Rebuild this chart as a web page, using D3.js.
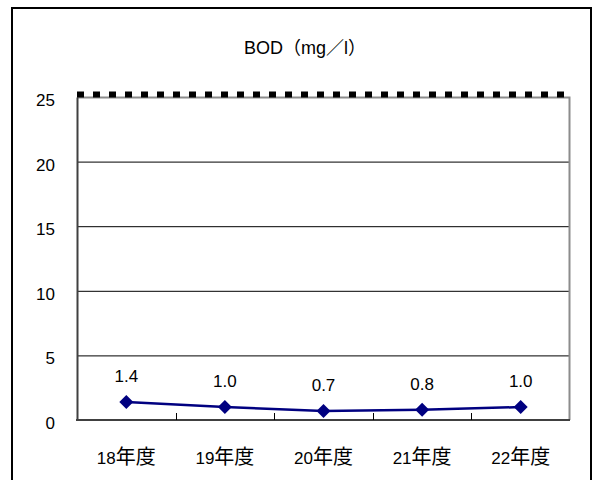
<!DOCTYPE html>
<html>
<head>
<meta charset="utf-8">
<script src="https://cdn.jsdelivr.net/npm/d3@7"></script>
<style>
  html, body { margin: 0; padding: 0; background: #fff; }
  svg { display: block; }
  text { font-family: "Liberation Sans", "Noto Sans CJK JP", sans-serif; fill: #000; }
</style>
</head>
<body>
<svg id="chart" width="595" height="480"></svg>
<script>
// BOD yearly averages with the environmental standard line
const categories = ["18年度", "19年度", "20年度", "21年度", "22年度"];
const bodValues = [1.4, 1.0, 0.7, 0.8, 1.0];
const yTicks = [0, 5, 10, 15, 20, 25];
const standardValue = [25];
const titleText = "BOD（mg／l）";

const svg = d3.select("#chart");
const plot = { left: 77, right: 570, top: 97, bottom: 420 };

// outer frame (bottom edge falls outside the canvas)
svg.append("rect")
  .attr("x", 12).attr("y", 8)
  .attr("width", 579).attr("height", 480)
  .attr("fill", "none").attr("stroke", "#000").attr("stroke-width", 2);

const x = d3.scaleBand().domain(categories).range([plot.left, plot.right]);
const y = d3.scaleLinear().domain([0, 25]).range([plot.bottom, plot.top]);

// title
svg.append("text")
  .attr("x", 305).attr("y", 54)
  .attr("text-anchor", "middle")
  .attr("font-size", 18)
  .text(titleText);

// horizontal gridlines
svg.append("g").selectAll("line")
  .data(yTicks.filter(t => t > 0 && t < 25))
  .join("line")
  .attr("x1", plot.left).attr("x2", plot.right)
  .attr("y1", d => y(d) + 0.5).attr("y2", d => y(d) + 0.5)
  .attr("stroke", "#000").attr("stroke-width", 1);

// plot area top and right border
svg.append("path")
  .attr("d", `M${plot.left},${y(25) + 0.5}H${plot.right - 0.5}V${plot.bottom}`)
  .attr("fill", "none").attr("stroke", "#8c8c8c").attr("stroke-width", 2);

// y axis
const yAxis = d3.axisLeft(y).tickValues(yTicks).tickSize(0).tickPadding(22);
const gy = svg.append("g").attr("transform", `translate(${plot.left},0)`).call(yAxis);
gy.select(".domain").attr("stroke", "#404040").attr("stroke-width", 2);
gy.selectAll("text")
  .attr("font-size", 17)
  .attr("font-family", "Liberation Sans, sans-serif")
  .attr("dy", "0.5em");

// x axis with ticks pointing into the plot at band boundaries
const gx = svg.append("g").attr("transform", `translate(0,${plot.bottom})`);
gx.append("line")
  .attr("x1", plot.left - 1).attr("x2", plot.right)
  .attr("y1", 0).attr("y2", 0)
  .attr("stroke", "#404040").attr("stroke-width", 2);
gx.selectAll("line.tick")
  .data(categories.slice(1))
  .join("line")
  .attr("class", "tick")
  .attr("x1", d => Math.round(x(d)) + 0.5).attr("x2", d => Math.round(x(d)) + 0.5)
  .attr("y1", 0).attr("y2", -7)
  .attr("stroke", "#000").attr("stroke-width", 1);
const xl = gx.selectAll("text")
  .data(categories)
  .join("text")
  .attr("x", d => x(d) + x.bandwidth() / 2)
  .attr("y", 44)
  .attr("text-anchor", "middle")
  .attr("font-size", 17);
xl.append("tspan").text(d => d.replace(/年度$/, ""));
xl.append("tspan")
  .attr("font-family", "Noto Sans CJK JP, sans-serif")
  .attr("font-size", 20)
  .text("年度");

// standard line drawn as heavy square dots on the 25 level
svg.append("line")
  .attr("x1", plot.left).attr("x2", plot.right)
  .attr("y1", y(standardValue[0]) - 2.5).attr("y2", y(standardValue[0]) - 2.5)
  .attr("stroke", "#000").attr("stroke-width", 6)
  .attr("stroke-dasharray", "7 9");

// data line
const cx = d => x(d) + x.bandwidth() / 2;
const pts = categories.map((c, i) => [cx(c), y(bodValues[i])]);
svg.append("path")
  .attr("d", d3.line()(pts))
  .attr("fill", "none").attr("stroke", "#000080").attr("stroke-width", 2.5);

// diamond markers
svg.append("g").selectAll("path")
  .data(pts)
  .join("path")
  .attr("transform", d => `translate(${d[0]},${d[1]})`)
  .attr("d", "M0,-7L7,0L0,7L-7,0Z")
  .attr("fill", "#000080");

// value labels
svg.append("g").selectAll("text")
  .data(bodValues)
  .join("text")
  .attr("x", (d, i) => cx(categories[i]))
  .attr("y", d => y(d) - 20)
  .attr("text-anchor", "middle")
  .attr("font-size", 17)
  .text(d => d.toFixed(1));
</script>
</body>
</html>
